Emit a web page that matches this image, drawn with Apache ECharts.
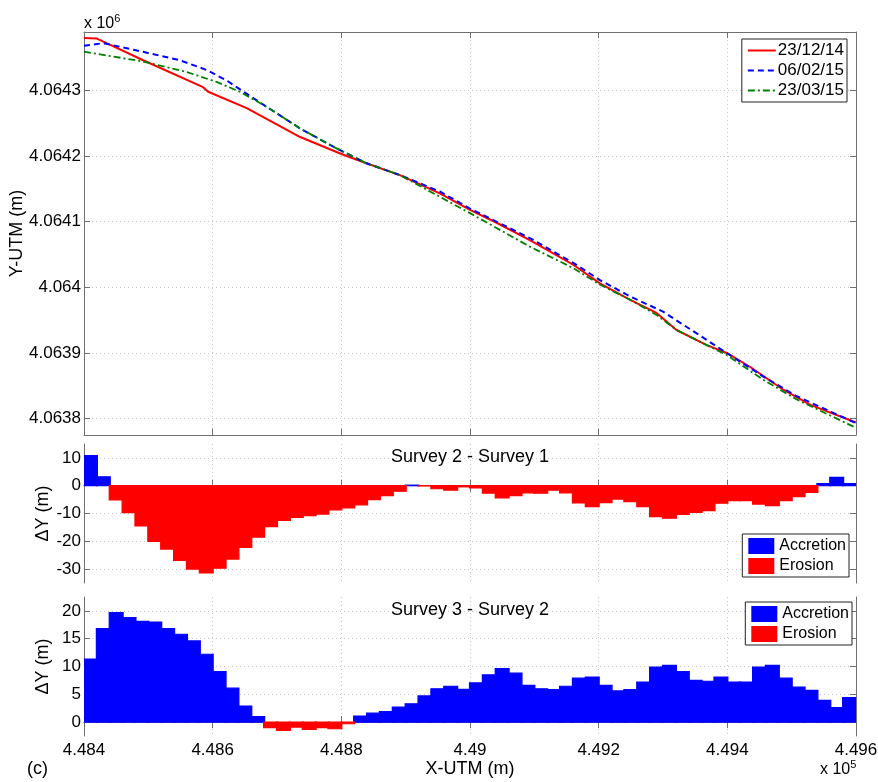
<!DOCTYPE html>
<html>
<head>
<meta charset="utf-8">
<script src="https://cdn.jsdelivr.net/npm/echarts@6/dist/echarts.min.js"></script>
<style>
html,body{margin:0;padding:0;background:#fff;}
#chart{width:878px;height:782px;}
</style>
</head>
<body>
<div id="chart"></div>
<script>
// ---------- DATA ----------
const seriesNames = ['23/12/14', '06/02/15', '23/03/15'];

const s1X = [448400, 448420, 448435, 448492, 448585, 448593, 448653, 448736, 448803, 448839, 448891, 448953, 449000, 449042, 449093, 449161, 449202, 449249, 449290, 449321, 449368, 449399, 449435, 449487, 449529, 449600];
const s1Y = [4064380, 4064379, 4064372, 4064346, 4064305, 4064298, 4064273, 4064229, 4064202, 4064189, 4064171, 4064143, 4064118, 4064098, 4064072, 4064034, 4064006, 4063981, 4063961, 4063935, 4063912, 4063900, 4063879, 4063844, 4063821, 4063794];

const s2X = [448400, 448430, 448477, 448549, 448591, 448622, 448648, 448684, 448736, 448788, 448839, 448891, 448953, 449000, 449093, 449161, 449202, 449249, 449300, 449363, 449399, 449456, 449508, 449600];
const s2Y = [4064368, 4064372, 4064362, 4064346, 4064331, 4064315, 4064298, 4064275, 4064242, 4064214, 4064189, 4064171, 4064146, 4064120, 4064075, 4064037, 4064011, 4063986, 4063963, 4063923, 4063900, 4063864, 4063834, 4063793];

const s3X = [448400, 448492, 448560, 448606, 448642, 448684, 448736, 448788, 448839, 448891, 448953, 449000, 449093, 449161, 449202, 449249, 449290, 449321, 449368, 449399, 449456, 449508, 449600];
const s3Y = [4064359, 4064344, 4064328, 4064313, 4064298, 4064275, 4064242, 4064214, 4064189, 4064171, 4064138, 4064113, 4064062, 4064029, 4064004, 4063981, 4063958, 4063935, 4063912, 4063897, 4063859, 4063829, 4063786];

// bins of 20 m: left edges
const binStarts = [448400, 448420, 448440, 448460, 448480, 448500, 448520, 448540, 448560, 448580,
  448600, 448620, 448640, 448660, 448680, 448700, 448720, 448740, 448760, 448780,
  448800, 448820, 448840, 448860, 448880, 448900, 448920, 448940, 448960, 448980,
  449000, 449020, 449040, 449060, 449080, 449100, 449120, 449140, 449160, 449180,
  449200, 449220, 449240, 449260, 449280, 449300, 449320, 449340, 449360, 449380,
  449400, 449420, 449440, 449460, 449480, 449500, 449520, 449540, 449560, 449580];
const binWidth = 20;

const dY21 = [10.8, 3.2, -5.1, -9.7, -14.5, -20.0, -22.8, -26.9, -30.0, -31.4,
  -29.7, -26.4, -22.2, -18.5, -14.7, -12.5, -11.4, -10.8, -10.2, -8.7,
  -8.0, -6.9, -5.0, -3.6, -2.0, 0.2, -0.1, -1.1, -1.6, -0.4,
  -0.8, -2.7, -4.4, -3.6, -2.6, -2.7, -1.6, -2.6, -6.2, -7.5,
  -6.1, -4.8, -5.7, -7.5, -11.1, -11.7, -10.3, -9.6, -9.0, -6.3,
  -5.4, -5.4, -6.6, -7.2, -5.4, -3.9, -2.4, 0.8, 3.0, 0.8];

const dY32 = [11.35, 16.8, 19.7, 18.8, 18.1, 18.0, 16.8, 15.8, 14.6, 12.2,
  9.1, 6.1, 2.9, 1.0, -1.0, -1.5, -0.9, -1.3, -1.0, -1.2,
  -0.3, 1.1, 1.6, 1.9, 2.7, 3.3, 4.7, 6.0, 6.45, 5.9,
  7.05, 8.5, 9.6, 8.8, 6.6, 6.0, 5.85, 6.45, 7.9, 8.1,
  6.6, 5.6, 5.85, 7.2, 9.9, 10.2, 9.1, 7.5, 7.35, 8.1,
  7.2, 7.2, 9.9, 10.2, 7.9, 6.3, 5.7, 3.9, 2.6, 4.4];

const yTicksTop = [4063800, 4063900, 4064000, 4064100, 4064200, 4064300];
const yTicksDiff1 = [-30, -20, -10, 0, 10];
const yTicksDiff2 = [0, 5, 10, 15, 20];

// ---------- CHART ----------
const FONT = "'Liberation Sans', Arial, Helvetica, sans-serif";
const AX = '#6f6f6f';
const GRIDC = '#c4c4c4';
const TXT = '#000';
const chart = echarts.init(document.getElementById('chart'), null, {renderer: 'canvas'});

const pairs = (xs, ys) => xs.map((x, i) => [x, ys[i]]);
const binData = (arr, positive) => arr
  .map((v, i) => [binStarts[i], binStarts[i] + binWidth, v])
  .filter(d => positive ? d[2] >= 0 : d[2] < 0);

function renderBin(params, api) {
  const p0 = api.coord([api.value(0), 0]);
  const p1 = api.coord([api.value(1), api.value(2)]);
  const x = Math.min(p0[0], p1[0]);
  const y = Math.min(p0[1], p1[1]);
  const c = api.visual('color');
  return {
    type: 'rect',
    shape: {x: x - 0.5, y: y, width: Math.abs(p1[0] - p0[0]) + 1, height: Math.abs(p1[1] - p0[1])},
    style: {fill: c, stroke: c, lineWidth: 1.2}
  };
}

const grids = [
  {left: 84, top: 32, width: 772, height: 403, outerBoundsMode: 'none', containLabel: false},
  {left: 84, top: 444, width: 772, height: 139, outerBoundsMode: 'none', containLabel: false},
  {left: 84, top: 597, width: 772, height: 139, outerBoundsMode: 'none', containLabel: false}
];

function xAx(gi, position, showLabel) {
  return {
    type: 'value', gridIndex: gi, position: position,
    min: 448400, max: 449600, interval: 200,
    axisLine: {show: true, lineStyle: {color: AX, width: 1}},
    axisTick: {show: true, inside: true, length: 6, lineStyle: {color: AX}},
    axisLabel: {show: showLabel, fontFamily: FONT, fontSize: 17, color: TXT, margin: 6,
      formatter: v => String(parseFloat((v / 1e5).toFixed(4)))},
    splitLine: {show: position === 'bottom', lineStyle: {color: GRIDC, type: [1, 3], width: 1}}
  };
}
function yAx(gi, position, min, max, ticks, fmt, name, nameGap) {
  const prim = position === 'left';
  return {
    type: 'value', gridIndex: gi, position: position, min: min, max: max,
    name: prim ? name : '', nameLocation: 'middle', nameGap: nameGap, nameRotate: 90, nameMoveOverlap: false,
    nameTextStyle: {fontFamily: FONT, fontSize: 18, color: TXT},
    axisLine: {show: true, lineStyle: {color: AX, width: 1}},
    axisTick: {show: true, inside: true, length: 6, customValues: ticks, lineStyle: {color: AX}},
    axisLabel: {show: prim, customValues: ticks, fontFamily: FONT, fontSize: 17, color: TXT, margin: 3, formatter: fmt},
    splitLine: {show: prim, lineStyle: {color: GRIDC, type: [1, 3], width: 1}}
  };
}

const topFmt = v => String(parseFloat((v / 1e6).toFixed(4)));
const intFmt = v => String(v);

const legendBase = {
  orient: 'vertical', backgroundColor: '#fff', borderColor: '#222', borderWidth: 1,
  textStyle: {fontFamily: FONT, fontSize: 16, color: TXT},
  selectedMode: false
};

const option = {
  animation: false,
  backgroundColor: '#fff',
  grid: grids,
  xAxis: [
    xAx(0, 'bottom', false), xAx(0, 'top', false),
    xAx(1, 'bottom', false), xAx(1, 'top', false),
    Object.assign(xAx(2, 'bottom', true), {name: 'X-UTM (m)', nameLocation: 'middle', nameGap: 24, nameMoveOverlap: false,
      nameTextStyle: {fontFamily: FONT, fontSize: 18, color: TXT}}),
    xAx(2, 'top', false)
  ],
  yAxis: [
    yAx(0, 'left', 4063775, 4064389, yTicksTop, topFmt, 'Y-UTM (m)', 58),
    yAx(0, 'right', 4063775, 4064389, yTicksTop, topFmt, '', 0),
    yAx(1, 'left', -35, 15, yTicksDiff1, intFmt, '\u0394Y (m)', 32),
    yAx(1, 'right', -35, 15, yTicksDiff1, intFmt, '', 0),
    yAx(2, 'left', -2.5, 22.5, yTicksDiff2, intFmt, '\u0394Y (m)', 32),
    yAx(2, 'right', -2.5, 22.5, yTicksDiff2, intFmt, '', 0)
  ],
  legend: [
    Object.assign({}, legendBase, {data: seriesNames, right: 31, top: 39, itemWidth: 28, itemHeight: 12, itemGap: 3,
      padding: [3, 3, 3, 5], itemStyle: {opacity: 0}, textStyle: {fontFamily: FONT, fontSize: 17, color: TXT, padding: [0, 0, 0, -3]}}),
    Object.assign({}, legendBase, {data: [{name: 'Accretion', icon: 'rect'}, {name: 'Erosion', icon: 'rect'}],
      right: 29, top: 534, itemWidth: 26, itemHeight: 16, itemGap: 4, padding: [4, 3, 3, 6]}),
    Object.assign({}, legendBase, {data: [{name: 'Accretion', icon: 'rect'}, {name: 'Erosion', icon: 'rect'}],
      right: 26, top: 602, itemWidth: 26, itemHeight: 16, itemGap: 4, padding: [4, 3, 3, 6]})
  ],
  graphic: [
    {type: 'text', left: 84, top: 13, style: {text: 'x 10{s|6}', fontFamily: FONT, fontSize: 16, fill: TXT,
      rich: {s: {fontSize: 11, verticalAlign: 'top', padding: [0, 0, 10, 0], fontFamily: FONT}}}},
    {type: 'text', left: 820, top: 759, style: {text: 'x 10{s|5}', fontFamily: FONT, fontSize: 16, fill: TXT,
      rich: {s: {fontSize: 11, padding: [0, 0, 10, 0], fontFamily: FONT}}}},
    {type: 'text', left: 27, top: 760, style: {text: '(c)', fontFamily: FONT, fontSize: 18, fill: TXT}},
    {type: 'text', x: 470, y: 457, z: 10, style: {text: 'Survey 2 - Survey 1', fontFamily: FONT, fontSize: 18, fill: TXT, align: 'center', verticalAlign: 'middle'}},
    {type: 'text', x: 470, y: 610, z: 10, style: {text: 'Survey 3 - Survey 2', fontFamily: FONT, fontSize: 18, fill: TXT, align: 'center', verticalAlign: 'middle'}}
  ],
  series: [
    {name: seriesNames[0], type: 'line', xAxisIndex: 0, yAxisIndex: 0, data: pairs(s1X, s1Y), showSymbol: false, symbol: 'none',
      lineStyle: {color: '#ff0000', width: 2}, itemStyle: {color: '#ff0000'}, z: 3},
    {name: seriesNames[1], type: 'line', xAxisIndex: 0, yAxisIndex: 0, data: pairs(s2X, s2Y), showSymbol: false, symbol: 'none',
      lineStyle: {color: '#0000ff', width: 2, type: [6, 4]}, itemStyle: {color: '#0000ff'}, z: 4},
    {name: seriesNames[2], type: 'line', xAxisIndex: 0, yAxisIndex: 0, data: pairs(s3X, s3Y), showSymbol: false, symbol: 'none',
      lineStyle: {color: '#008000', width: 1.8, type: [7, 3, 2, 3]}, itemStyle: {color: '#008000'}, z: 5},

    {name: 'Accretion', type: 'custom', xAxisIndex: 2, yAxisIndex: 2, data: binData(dY21, true), renderItem: renderBin,
      encode: {x: [0, 1], y: 2}, itemStyle: {color: '#0000ff'}, clip: true},
    {name: 'Erosion', type: 'custom', xAxisIndex: 2, yAxisIndex: 2, data: binData(dY21, false), renderItem: renderBin,
      encode: {x: [0, 1], y: 2}, itemStyle: {color: '#ff0000'}, clip: true},
    {name: 'Accretion', type: 'custom', xAxisIndex: 4, yAxisIndex: 4, data: binData(dY32, true), renderItem: renderBin,
      encode: {x: [0, 1], y: 2}, itemStyle: {color: '#0000ff'}, clip: true},
    {name: 'Erosion', type: 'custom', xAxisIndex: 4, yAxisIndex: 4, data: binData(dY32, false), renderItem: renderBin,
      encode: {x: [0, 1], y: 2}, itemStyle: {color: '#ff0000'}, clip: true}
  ]
};
chart.setOption(option);
</script>
</body>
</html>
